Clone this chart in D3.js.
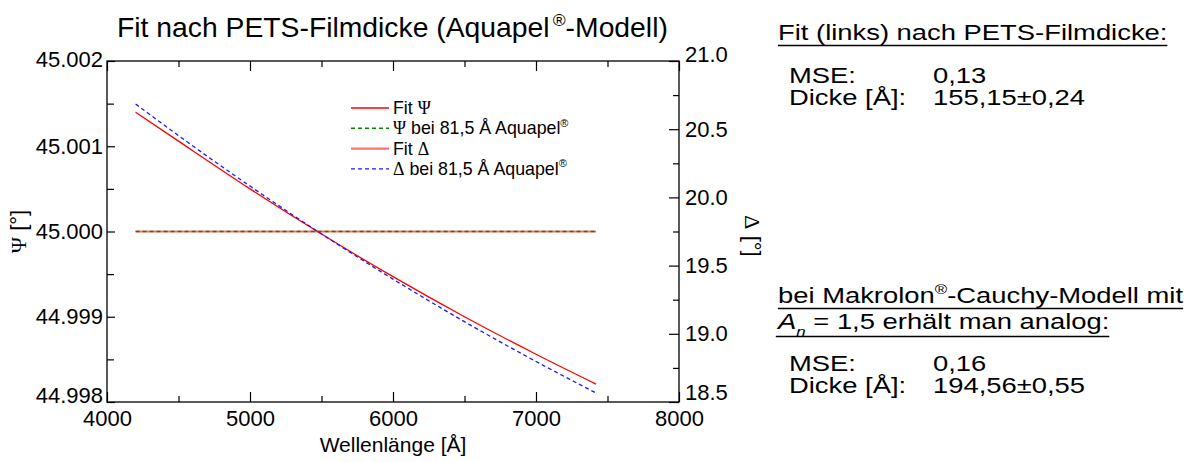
<!DOCTYPE html>
<html>
<head>
<meta charset="utf-8">
<script src="https://cdn.jsdelivr.net/npm/d3@7"></script>
<style>
  body { margin: 0; background: #fff; }
  svg { display: block; }
  text { font-family: "Liberation Sans", Arial, Helvetica, sans-serif; fill: #000; }
  .greek { font-family: "Liberation Serif", "Times New Roman", serif; }
</style>
</head>
<body>
<svg id="chart" width="1189" height="462"></svg>
<script>
// Wavelength grid of the simulated spectra [Å]
const wavelength = [4200, 4500, 5000, 5500, 6000, 6500, 7000, 7420];

// Ψ [°] (left axis)
const fitPsi      = [45.00140, 45.00106, 45.00050, 44.99997, 44.99947, 44.99900, 44.99856, 44.99821];
const psiMeasured = [45.000, 45.000, 45.000, 45.000, 45.000, 45.000, 45.000, 45.000];

// Δ [°] (right axis)
const fitDelta      = [19.75, 19.75, 19.75, 19.75, 19.75, 19.75, 19.75, 19.75];
const deltaMeasured = [20.685, 20.453, 20.083, 19.732, 19.401, 19.089, 18.797, 18.566];

// Axis ticks
const xTicks      = [4000, 5000, 6000, 7000, 8000];
const xMinorTicks = [4500, 5500, 6500, 7500];
const psiTicks      = [44.998, 44.999, 45.000, 45.001, 45.002];
const psiMinorTicks = [44.9985, 44.9995, 45.0005, 45.0015];
const deltaTicks      = [18.5, 19.0, 19.5, 20.0, 20.5, 21.0];
const deltaMinorTicks = [18.75, 19.25, 19.75, 20.25, 20.75];

// Fit results
const fitResultsAquapel  = { mse: "0,13", thickness: "155,15±0,24" };
const fitResultsMakrolon = { mse: "0,16", thickness: "194,56±0,55" };

// ---------------------------------------------------------------------------
const svg = d3.select("#chart");
const plot = { left: 107, right: 679, top: 61, bottom: 402 };
const tickFont = 22;

const x = d3.scaleLinear().domain([4000, 8000]).range([plot.left, plot.right]);
const yPsi = d3.scaleLinear().domain([44.998, 45.002]).range([plot.bottom, plot.top]);
const yDelta = d3.scaleLinear().domain([18.5, 21.0]).range([plot.bottom, plot.top]);

// Writes a run of text parts (plain, greek, superscript, subscript, italic) into a <text>
function rich(textSel, parts, fs) {
  let shift = 0;
  parts.forEach(p => {
    const t = textSel.append("tspan").text(p.t);
    let target = 0;
    if (p.sup) target = -0.42 * fs;
    if (p.sub) target = 0.3 * fs;
    if (target !== shift) { t.attr("dy", target - shift); shift = target; }
    if (p.sup || p.sub) t.attr("font-size", (0.62 * fs).toFixed(1));
    if (p.greek) t.attr("class", "greek");
    if (p.italic) t.attr("font-style", "italic");
    if (p.dx) t.attr("dx", p.dx);
  });
  return textSel;
}

// Series (drawing order)
const series = [
  { key: "fitDelta",      values: fitDelta,      y: yDelta, color: "#ff7070", width: 2.2, dash: null,
    label: [{ t: "Fit " }, { t: "Δ", greek: true }] },
  { key: "psiMeasured",   values: psiMeasured,   y: yPsi,   color: "#008c00", width: 1.5, dash: "4,3",
    label: [{ t: "Ψ", greek: true }, { t: " bei 81,5 Å Aquapel" }, { t: "®", sup: true }] },
  { key: "fitPsi",        values: fitPsi,        y: yPsi,   color: "#ff0000", width: 1.3, dash: null,
    label: [{ t: "Fit " }, { t: "Ψ", greek: true }] },
  { key: "deltaMeasured", values: deltaMeasured, y: yDelta, color: "#1a1aff", width: 1.3, dash: "4,3",
    label: [{ t: "Δ", greek: true }, { t: " bei 81,5 Å Aquapel" }, { t: "®", sup: true }] }
];
const legendOrder = ["fitPsi", "psiMeasured", "fitDelta", "deltaMeasured"];

// Lines
const gLines = svg.append("g");
series.forEach(s => {
  const line = d3.line()
    .x((d, i) => x(wavelength[i]))
    .y(d => s.y(d))
    .curve(d3.curveMonotoneX);
  gLines.append("path")
    .datum(s.values)
    .attr("fill", "none")
    .attr("stroke", s.color)
    .attr("stroke-width", s.width)
    .attr("stroke-dasharray", s.dash)
    .attr("d", line);
});

// Axes: all ticks point into the plot
const axisStyle = g => {
  g.select(".domain").remove();
  g.selectAll("line").attr("stroke", "#000").attr("stroke-width", 1.2);
  g.selectAll("text").attr("font-size", tickFont).attr("font-family", null).attr("fill", "#000");
};

svg.append("g").attr("transform", `translate(0,${plot.bottom})`)
  .call(d3.axisBottom(x).tickValues(xTicks).tickFormat(d3.format("d")).tickSize(-10).tickPadding(8))
  .call(axisStyle);
svg.append("g").attr("transform", `translate(0,${plot.bottom})`)
  .call(d3.axisBottom(x).tickValues(xMinorTicks).tickFormat("").tickSize(-6))
  .call(axisStyle);
svg.append("g").attr("transform", `translate(0,${plot.top})`)
  .call(d3.axisTop(x).tickValues(xTicks).tickFormat("").tickSize(-10))
  .call(axisStyle);
svg.append("g").attr("transform", `translate(0,${plot.top})`)
  .call(d3.axisTop(x).tickValues(xMinorTicks).tickFormat("").tickSize(-6))
  .call(axisStyle);

const gLeft = svg.append("g").attr("transform", `translate(${plot.left},0)`)
  .call(d3.axisLeft(yPsi).tickValues(psiTicks).tickFormat(d3.format(".3f")).tickSize(-8).tickPadding(4))
  .call(axisStyle);
svg.append("g").attr("transform", `translate(${plot.left},0)`)
  .call(d3.axisLeft(yPsi).tickValues(psiMinorTicks).tickFormat("").tickSize(-7))
  .call(axisStyle);

const gRight = svg.append("g").attr("transform", `translate(${plot.right},0)`)
  .call(d3.axisRight(yDelta).tickValues(deltaTicks).tickFormat(d3.format(".1f")).tickSize(-10).tickPadding(6))
  .call(axisStyle);
svg.append("g").attr("transform", `translate(${plot.right},0)`)
  .call(d3.axisRight(yDelta).tickValues(deltaMinorTicks).tickFormat("").tickSize(-6))
  .call(axisStyle);

// End labels of the vertical axes sit slightly above their ticks
gLeft.selectAll("text").filter(d => d === 44.998).attr("y", -7);
gLeft.selectAll("text").filter(d => d === 45.002).attr("y", -2);
gRight.selectAll("text").filter(d => d === 18.5).attr("y", -10);
gRight.selectAll("text").filter(d => d === 21.0).attr("y", -7);

// Frame
svg.append("rect")
  .attr("x", plot.left).attr("y", plot.top)
  .attr("width", plot.right - plot.left).attr("height", plot.bottom - plot.top)
  .attr("fill", "none").attr("stroke", "#000").attr("stroke-width", 1.3);

// Axis titles
svg.append("text")
  .attr("x", (plot.left + plot.right) / 2).attr("y", 452)
  .attr("text-anchor", "middle").attr("font-size", 21)
  .text("Wellenlänge [Å]");

rich(svg.append("text")
  .attr("transform", `translate(26,${(plot.top + plot.bottom) / 2}) rotate(-90)`)
  .attr("text-anchor", "middle").attr("font-size", 22),
  [{ t: "Ψ", greek: true }, { t: " [°]" }], 22);

rich(svg.append("text")
  .attr("transform", `translate(745,236) rotate(90)`)
  .attr("text-anchor", "middle").attr("font-size", 22),
  [{ t: "Δ", greek: true }, { t: " [°]" }], 22);

// Title, stretched to the plot width
const titleG = svg.append("g");
const title = rich(titleG.append("text").attr("x", 0).attr("y", 0).attr("font-size", 27),
  [{ t: "Fit nach PETS-Filmdicke (Aquapel" }, { t: "®", sup: true, dx: 3 }, { t: "-Modell)" }], 27);
const titleW = title.node().getBBox().width;
titleG.attr("transform", `translate(117,37) scale(${551 / titleW},1)`);

// Legend
const legend = svg.append("g").attr("transform", "translate(351,108)");
legendOrder.forEach((key, i) => {
  const s = series.find(d => d.key === key);
  const row = legend.append("g").attr("transform", `translate(0,${i * 20.3})`);
  row.append("line")
    .attr("x1", 0).attr("x2", 38).attr("y1", 0).attr("y2", 0)
    .attr("stroke", s.color).attr("stroke-width", s.width)
    .attr("stroke-dasharray", s.dash);
  rich(row.append("text").attr("x", 42).attr("y", 6).attr("font-size", 17.8), s.label, 17.8);
});

// Fit results panel
const stretch = 1.245;
const notes = svg.append("g").attr("transform", `translate(778,0) scale(${stretch},1)`);
const valueX = (933 - 778) / stretch;
const labelX = (789 - 778) / stretch;
const noteFont = 22;

function underlined(textSel, yLine) {
  const b = textSel.node().getBBox();
  notes.append("line")
    .attr("x1", b.x).attr("x2", b.x + b.width)
    .attr("y1", yLine).attr("y2", yLine)
    .attr("stroke", "#000").attr("stroke-width", 1.5);
}
function resultRows(res, y0) {
  notes.append("text").attr("x", labelX).attr("y", y0).attr("font-size", noteFont).text("MSE:");
  notes.append("text").attr("x", valueX).attr("y", y0).attr("font-size", noteFont).text(res.mse);
  notes.append("text").attr("x", labelX).attr("y", y0 + 22).attr("font-size", noteFont).text("Dicke [Å]:");
  notes.append("text").attr("x", valueX).attr("y", y0 + 22).attr("font-size", noteFont).text(res.thickness);
}

const h1 = notes.append("text").attr("x", 0).attr("y", 40).attr("font-size", noteFont)
  .text("Fit (links) nach PETS-Filmdicke:");
underlined(h1, 45.5);
resultRows(fitResultsAquapel, 83);

const h2 = rich(notes.append("text").attr("x", 0).attr("y", 303).attr("font-size", noteFont),
  [{ t: "bei Makrolon" }, { t: "®", sup: true }, { t: "-Cauchy-Modell mit" }], noteFont);
underlined(h2, 308.5);
const h3 = rich(notes.append("text").attr("x", 0).attr("y", 329).attr("font-size", noteFont),
  [{ t: "A", italic: true }, { t: "n", sub: true, italic: true }, { t: " = 1,5 erhält man analog:" }], noteFont);
underlined(h3, 336.5);
resultRows(fitResultsMakrolon, 371);
</script>
</body>
</html>
